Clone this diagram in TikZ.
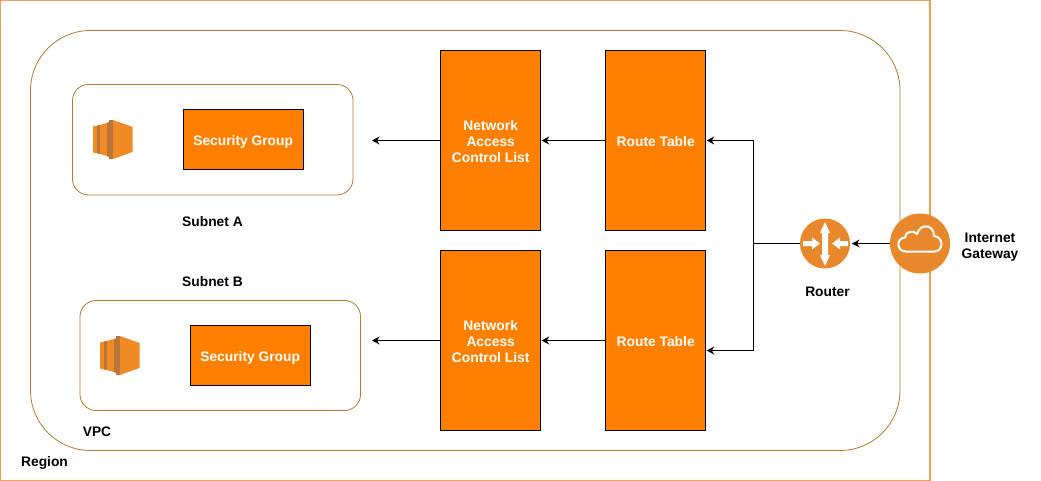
\documentclass[tikz,border=0pt]{standalone}
\usepackage{fontspec}
\setmainfont{Liberation Sans}
\usetikzlibrary{arrows.meta,calc}
\definecolor{awsorange}{HTML}{FF8000}
\definecolor{iconorange}{HTML}{E8872B}
\definecolor{iconface}{HTML}{F08A24}
\definecolor{icondark}{HTML}{B8763A}
\definecolor{regionline}{HTML}{F0A050}
\definecolor{linebrown}{HTML}{B87A30}
\newcommand{\nudgedown}{\rule{0pt}{12pt}}
\tikzset{
  x=1pt,y=-1pt,
  lbl/.style={font=\fontsize{13.8}{16}\selectfont\bfseries,text=black,align=center,inner sep=0pt},
  wlbl/.style={font=\fontsize{13.8}{16}\selectfont\bfseries,text=white,align=center},
  ctn/.style={draw=linebrown,line width=0.8pt,fill=white},
  orangebox/.style={draw=black,line width=0.9pt,fill=awsorange,minimum width=100pt,minimum height=180pt,inner sep=0pt,outer sep=0pt,wlbl},
  sgbox/.style={draw=black,line width=0.9pt,fill=awsorange,minimum width=120pt,minimum height=60pt,inner sep=0pt,outer sep=0pt,wlbl,text depth=0pt},
  conn/.style={draw=black,line width=0.9pt,-{Stealth[length=7.5pt,width=8pt]},shorten >=1pt},
  plainconn/.style={draw=black,line width=0.9pt},
  disc/.style={circle,fill=iconorange,draw=none,inner sep=0pt,outer sep=0pt},
  glyph/.style={draw=white,line width=2pt,line join=round},
}
\newcommand{\ecicon}[2]{%
  \begin{scope}[shift={(#1,#2)}]
    \fill[iconface] (0,6.5) -- (4,5.5) -- (4,33.5) -- (0,32.5) -- cycle;
    \fill[icondark] (4,5.5) -- (7,5) -- (7,34) -- (4,33.5) -- cycle;
    \fill[iconface] (7,5) -- (10,4) -- (10,35) -- (7,34) -- cycle;
    \fill[iconface] (10,4) -- (14,3) -- (14,36) -- (10,35) -- cycle;
    \fill[icondark] (14,3) -- (16,2) -- (16,37) -- (14,36) -- cycle;
    \fill[icondark] (16,0) -- (20,0) -- (20,39) -- (16,39) -- cycle;
    \fill[iconface] (20,0) -- (39.5,7) -- (39.5,32) -- (20,39) -- cycle;
  \end{scope}}
\begin{document}
\begin{tikzpicture}
\useasboundingbox (0,0) rectangle (1041,481);
\fill[white] (0,0) rectangle (1041,481);
\coordinate (regionA) at (0.6,0.6);
\coordinate (regionB) at (930,480.4);
\draw[draw=regionline,line width=1.2pt] (regionA) rectangle (regionB);
\node[lbl] (region) at (44.5,462.5) {Region};
\draw[ctn,rounded corners=60pt] (30.5,30.5) rectangle (900,450.5);
\node[lbl] (vpc) at (97,431.5) {VPC};
\draw[ctn,rounded corners=16pt] (72.5,84.5) rectangle (353,195);
\draw[ctn,rounded corners=16pt] (80,300.5) rectangle (360.5,410.5);
\node[lbl] (subnetA) at (212.5,221.5) {Subnet A};
\node[lbl] (subnetB) at (212.5,281.5) {Subnet B};
\node[sgbox] (sgA) at (243.2,139.3) {\nudgedown Security Group};
\node[sgbox] (sgB) at (250.2,355.3) {\nudgedown Security Group};
\ecicon{93}{120}
\ecicon{100}{336}
\node[orangebox] (naclA) at (490.7,140.5) {\nudgedown Network\\Access\\Control List};
\node[orangebox] (naclB) at (490.7,340.5) {\nudgedown Network\\Access\\Control List};
\node[orangebox] (rtA) at (655.7,140.5) {\nudgedown Route Table};
\node[orangebox] (rtB) at (655.7,340.5) {\nudgedown Route Table};
\node[disc,minimum size=50pt] (router) at (825,243.5) {};
\node[disc,minimum size=60pt] (igw) at (920,243.5) {};
\node[lbl] (routerlabel) at (827.5,291.5) {Router};
\node[lbl] (igwlabel) at (990,247) {Internet\\Gateway};
% router glyph
\fill[white] (825,222) -- (830,233) -- (828,233) -- (828,255) -- (830,255) -- (825,266) -- (820,255) -- (822,255) -- (822,233) -- (820,233) -- cycle;
\fill[white] (803,241) -- (812,241) -- (812,237.5) -- (820,243.5) -- (812,249.5) -- (812,246) -- (803,246) -- cycle;
\fill[white] (848,241) -- (840,241) -- (840,237.5) -- (832,243.5) -- (840,249.5) -- (840,246) -- (848,246) -- cycle;
% cloud glyph
\draw[glyph] (906,251.5) .. controls (896,251.5) and (896,238) .. (905,237.5) .. controls (905,231) and (914,230) .. (917,234) .. controls (920,223) and (934,224) .. (934,236) .. controls (944,237) and (944,251.5) .. (934,251.5) -- cycle;
% connectors
\draw[conn] (igw.west) -- ($(router.east)+(1,0)$);
\coordinate (busTop) at (753,140.5);
\coordinate (busMid) at (753,243.5);
\coordinate (busBot) at (753,350.5);
\coordinate (rtBin) at ($(rtB.east)+(0,10)$);
\draw[plainconn] (router.west) -- (busMid);
\draw[conn] (busMid) -- (busTop) -- (rtA.east);
\draw[conn] (busMid) -- (busBot) -- (rtBin);
\draw[conn] (rtA.west) -- (naclA.east);
\draw[conn] (rtB.west) -- (naclB.east);
\coordinate (endA) at (371,140.5);
\coordinate (endB) at (371,340.5);
\draw[conn] (naclA.west) -- (endA);
\draw[conn] (naclB.west) -- (endB);
\end{tikzpicture}
\end{document}
